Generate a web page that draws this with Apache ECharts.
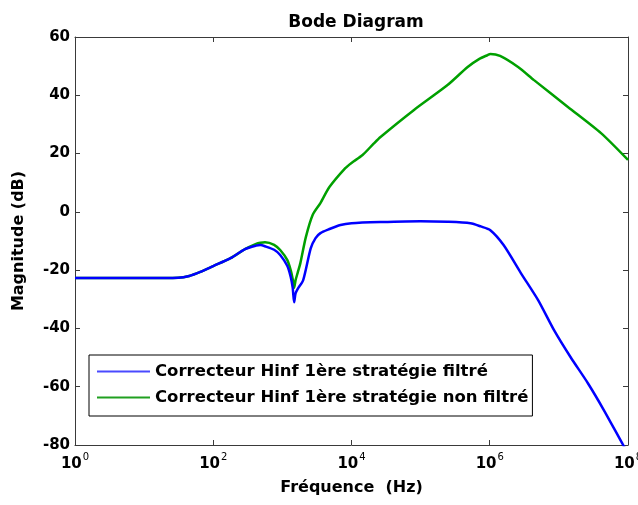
<!DOCTYPE html>
<html>
<head>
<meta charset="utf-8">
<script src="https://cdn.jsdelivr.net/npm/echarts@6/dist/echarts.min.js"></script>
<style>
html,body{margin:0;padding:0;background:#fff;}
#c{width:638px;height:505px;}
</style>
</head>
<body>
<div id="c"></div>
<script>
// Frequencies in Hz, magnitudes in dB
var freqFiltre = [1,10,31,45,65,100,178,288,417,480,560,760,930,1175,1320,1410,1480,1550,1660,2000,2570,3020,3550,4680,6920,10000,26300,100000,245000,525000,741000,1020000,1585000,2820000,5010000,8510000,14800000,26300000,44700000,85100000,100000000];
var dbFiltre   = [-22.7,-22.7,-22.6,-22,-20.6,-18.6,-15.9,-12.8,-11.6,-11.4,-11.8,-13,-14.8,-18.5,-22.3,-26,-31,-28,-26.5,-23.4,-12.5,-9,-7.3,-6,-4.5,-3.9,-3.5,-3.2,-3.4,-3.9,-5,-6.3,-11.4,-21,-30.3,-40.6,-49.9,-58.8,-68,-80,-82.8];

var freqNonFiltre = [1,10,31,45,65,100,178,288,417,480,560,760,930,1175,1320,1410,1480,1550,1660,1820,2190,2750,3550,4790,8130,10000,14450,20900,26300,79400,245000,479000,708000,933000,1020000,1410000,2570000,4370000,13500000,40700000,100000000];
var dbNonFiltre   = [-22.7,-22.7,-22.6,-22,-20.6,-18.6,-15.9,-12.8,-11,-10.6,-10.4,-11.3,-13.1,-16.5,-20,-23,-26,-23.5,-21,-17.6,-8.6,-1,3,8.5,15,16.8,19.5,23.4,25.7,34.9,43.5,49.7,52.5,53.8,54.2,53.5,49.7,45.2,36,27,17.8];

var seriesNames = ['Correcteur Hinf 1ère stratégie filtré', 'Correcteur Hinf 1ère stratégie non filtré'];
var yTicks = [-80,-60,-40,-20,0,20,40,60];
var xTickExponents = [0,2,4,6,8];

function pairs(f, d){ return f.map(function(v,i){ return [v, d[i]]; }); }

var chart = echarts.init(document.getElementById('c'), null, {renderer:'canvas'});
var font = 'DejaVu Sans, Verdana, sans-serif';
var axisLineStyle = {color:'#3a3a3a', width:1};

chart.setOption({
  animation:false,
  backgroundColor:'#fff',
  title:{
    text:'Bode Diagram', left:351, top:9, textAlign:'center',
    textStyle:{fontFamily:font, fontWeight:'bold', fontSize:17, color:'#000'}
  },
  legend:{
    orient:'vertical', left:89, top:355,
    data:seriesNames,
    icon:'rect', itemWidth:53, itemHeight:2, itemGap:9,
    borderColor:'#000', borderWidth:1, padding:[8,4,10,8],
    backgroundColor:'#fff',
    textStyle:{fontFamily:font, fontWeight:'bold', fontSize:16.5, color:'#000'}
  },
  grid:{left:75, right:10, top:37, bottom:60, containLabel:false, outerBoundsMode:'none'},
  xAxis:[{
    type:'log', logBase:10, min:1, max:100000000, interval:2,
    name:'Fréquence  (Hz)', nameLocation:'middle', nameGap:35,
    nameTextStyle:{fontFamily:font, fontWeight:'bold', fontSize:16, color:'#000'},
    axisLine:{show:true, onZero:false, lineStyle:axisLineStyle},
    axisTick:{show:true, inside:true, length:5, lineStyle:axisLineStyle},
    splitLine:{show:false},
    axisLabel:{
      margin:7, color:'#000',
      formatter:function(v){ var e = Math.round(Math.log10(v)); return xTickExponents.indexOf(e) >= 0 ? '{b|10}{s|' + e + '}' : ''; },
      rich:{
        b:{fontFamily:font, fontWeight:'bold', fontSize:15, color:'#000', verticalAlign:'bottom'},
        s:{fontFamily:font, fontSize:10, color:'#000', verticalAlign:'top', padding:[0,0,10,1]}
      }
    }
  },{
    type:'log', logBase:10, min:1, max:100000000, interval:2, position:'top',
    axisLine:{show:true, onZero:false, lineStyle:axisLineStyle},
    axisTick:{show:true, inside:true, length:5, lineStyle:axisLineStyle},
    axisLabel:{show:false}, splitLine:{show:false}
  }],
  yAxis:[{
    type:'value', min:yTicks[0], max:yTicks[yTicks.length-1], interval:20,
    name:'Magnitude (dB)', nameLocation:'middle', nameGap:48, nameRotate:90,
    nameTextStyle:{fontFamily:font, fontWeight:'bold', fontSize:16, color:'#000'},
    axisLine:{show:true, onZero:false, lineStyle:axisLineStyle},
    axisTick:{show:true, inside:true, length:5, lineStyle:axisLineStyle},
    splitLine:{show:false},
    axisLabel:{margin:5, fontFamily:font, fontWeight:'bold', fontSize:15, color:'#000'}
  },{
    type:'value', min:yTicks[0], max:yTicks[yTicks.length-1], interval:20, position:'right',
    axisLine:{show:true, onZero:false, lineStyle:axisLineStyle},
    axisTick:{show:true, inside:true, length:5, lineStyle:axisLineStyle},
    axisLabel:{show:false}, splitLine:{show:false}
  }],
  series:[{
    name:seriesNames[0], type:'line', data:pairs(freqFiltre, dbFiltre),
    showSymbol:false, symbol:'none', clip:true, smooth:0.25,
    lineStyle:{color:'#0000ff', width:2.5}, itemStyle:{color:'#4a4aff'}, z:3
  },{
    name:seriesNames[1], type:'line', data:pairs(freqNonFiltre, dbNonFiltre),
    showSymbol:false, symbol:'none', clip:true, smooth:0.25,
    lineStyle:{color:'#00a000', width:2.5}, itemStyle:{color:'#20a020'}, z:2
  }]
});
</script>
</body>
</html>
